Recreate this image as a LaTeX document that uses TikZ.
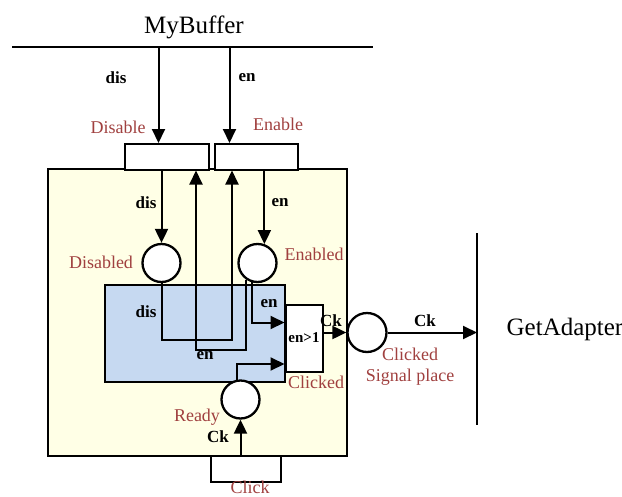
\documentclass[tikz,border=0pt]{standalone}
\usepackage{fontspec}
\setmainfont{Liberation Serif}
\usetikzlibrary{arrows.meta,calc}
\definecolor{lblred}{HTML}{A0403F}
\definecolor{cream}{HTML}{FFFFE6}
\definecolor{paleblue}{HTML}{C6D9F1}
\begin{document}
\begin{tikzpicture}[x=1pt,y=-1pt,
  arr/.style={line width=2pt,-{Triangle[length=14pt,width=13pt]}},
  ln/.style={line width=2pt},
  place/.style={circle,draw,line width=2.3pt,fill=white,minimum size=38pt,inner sep=0pt},
  trans/.style={rectangle,draw,line width=2pt,fill=white,inner sep=0pt,anchor=north west},
  area/.style={rectangle,draw,line width=2pt,inner sep=0pt,anchor=north west},
  lbl/.style={text=lblred,font=\fontsize{18}{20}\selectfont,inner sep=0pt},
  bl/.style={font=\bfseries\fontsize{17}{19}\selectfont,inner sep=0pt},
  big/.style={font=\fontsize{25}{28}\selectfont,inner sep=0pt}]
\path[use as bounding box] (0,0) rectangle (622,496);

% areas
\node[area,fill=cream,minimum width=299pt,minimum height=287pt] (yel) at (47,168) {};
\node[area,fill=paleblue,minimum width=179.5pt,minimum height=96.5pt] (blu) at (104,284) {};

% top line and right line
\coordinate (tl) at (12,47);
\coordinate (tr) at (373,47);
\coordinate (gt) at (477,233);
\coordinate (gb) at (477,425);
\coordinate (ds) at (158.5,47);
\coordinate (es) at (229.5,47);
\coordinate (k1) at (232,340);
\coordinate (k2) at (196,349.5);
\coordinate (in1) at (284.5,322.5);
\coordinate (in2) at (284.5,364);

% transitions
\node[trans,minimum width=84pt,minimum height=25.5pt] (disT) at (124,143) {};
\node[trans,minimum width=83pt,minimum height=25.5pt] (enT) at (214,143) {};
\node[trans,minimum width=37pt,minimum height=67pt] (ckT) at (284.5,303.5) {};
\node[trans,minimum width=70pt,minimum height=26pt] (clT) at (209.5,455) {};

% places
\node[place] (disP) at (161.5,263) {};
\node[place] (enP) at (257.5,263) {};
\node[place] (rdP) at (240.5,399.5) {};
\node[place,minimum size=39pt] (clkP) at (367,332.5) {};

% connectors
\draw[ln] (tl) -- (tr);
\draw[ln] (gt) -- (gb);
\draw[arr] (ds) -- (ds |- disT.north);
\draw[arr] (es) -- (es |- enT.north);
\draw[arr] (disP |- disT.south) -- (disP.north);
\draw[arr] (enP.70 |- enT.south) -- (enP.70);
\draw[arr] (disP.south) |- (k1) -- (k1 |- enT.south);
\draw[arr] (enP.235) |- (k2) -- (k2 |- disT.south);
\draw[arr] (enP.253) |- (in1);
\draw[arr] (rdP.99) |- (in2);
\draw[arr] (rdP |- clT.north) -- (rdP.south);
\draw[arr] (ckT.east |- clkP) -- (clkP.west);
\draw[arr] (clkP.east) -- (clkP.east -| gt);

% texts
\node[big] (tMy) at (194,27) {MyBuffer};
\node[big] (tGA) at (565,329) {GetAdapter};
\node[font=\bfseries\fontsize{15}{17}\selectfont,inner sep=0pt] (tEn1) at (ckT.center) {en>1};

\node[bl] (b1) at (116,78) {dis};
\node[bl] (b2) at (247,78) {en};
\node[bl] (b3) at (146,203) {dis};
\node[bl] (b4) at (280,203) {en};
\node[bl] (b5) at (146,312) {dis};
\node[bl] (b6) at (205,356) {en};
\node[bl] (b7) at (269,304) {en};
\node[bl] (b8) at (331,321) {Ck};
\node[bl] (b9) at (425,321) {Ck};
\node[bl] (b10) at (218,437) {Ck};

\node[lbl] (l1) at (118,127) {Disable};
\node[lbl] (l2) at (278,124) {Enable};
\node[lbl] (l3) at (101,262) {Disabled};
\node[lbl] (l4) at (314,254) {Enabled};
\node[lbl] (l5) at (316,382) {Clicked};
\node[lbl] (l6) at (410,354) {Clicked};
\node[lbl] (l7) at (410,377) {Signal place};
\node[lbl] (l8) at (197,417) {Ready};
\node[lbl] (l9) at (250,487) {Click};
\end{tikzpicture}
\end{document}
